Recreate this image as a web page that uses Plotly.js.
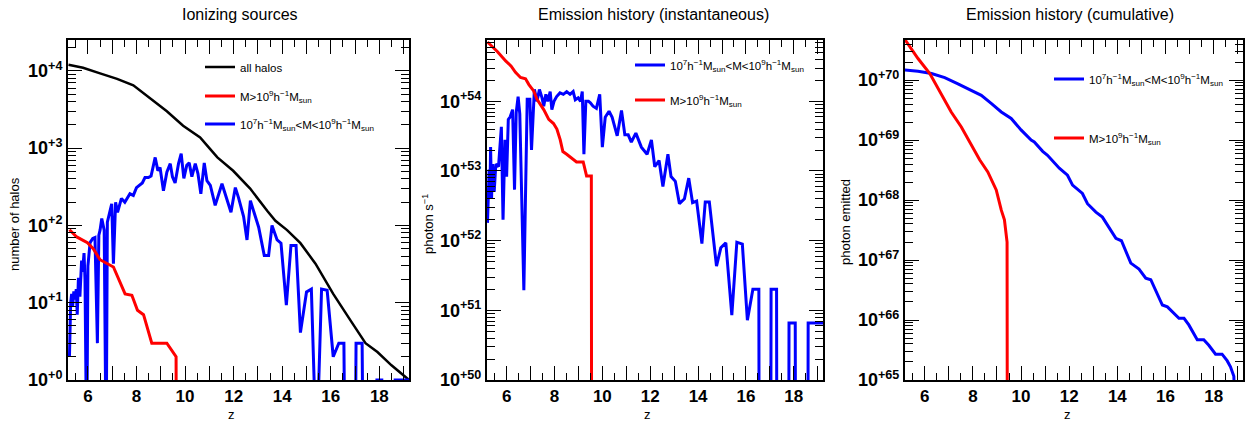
<!DOCTYPE html>
<html>
<head>
<meta charset="utf-8">
<script src="https://cdn.plot.ly/plotly-3.0.1.min.js"></script>
<style>html,body{margin:0;padding:0;background:#fff}#chart{width:1246px;height:424px}</style>
</head>
<body>
<div id="chart"></div>
<script>
// ---------- Panel 1: Ionizing sources (number of halos) ----------
const z_all = [5.2,5.8,6.5,7.2,7.87,8.56,9.25,9.92,10.62,11.0,11.33,11.98,12.68,13.38,13.72,14.2,14.75,15.37,16.1,16.81,17.43,17.92,18.5,19.22];
const n_all = [12000,11000,9300,7900,6500,4400,3000,1950,1380,1000,760,510,300,155,115,87,59,32,13,5.9,3.0,2.3,1.55,1.0];

const z_big1 = [5.24,5.54,5.98,6.22,6.5,7.05,7.53,7.81,8.04,8.29,8.63,9.25,9.63,9.64];
const n_big1 = [88,71,60,50,36,29,13,12.5,8,7,3,3,2,0];

const z_small1 = [5.24,5.29,5.33,5.37,5.42,5.47,5.52,5.56,5.61,5.67,5.74,5.78,5.84,5.88,5.95,6.0,6.09,6.2,6.29,6.39,6.45,6.5,6.57,6.67,6.75,6.8,6.98,7.05,7.14,7.22,7.38,7.52,7.73,7.87,8.0,8.14,8.24,8.35,8.49,8.6,8.7,8.77,8.88,8.97,9.11,9.25,9.39,9.48,9.59,9.73,9.84,9.95,10.07,10.17,10.28,10.42,10.53,10.65,10.79,10.9,11.04,11.24,11.52,11.66,11.89,12.07,12.2,12.41,12.55,12.69,12.89,13.03,13.26,13.44,13.58,13.79,13.95,14.17,14.36,14.57,14.75,15.0,15.2,15.41,15.62,15.85,16.1,16.33,16.54,16.58,17.01,17.04,17.29,17.33,17.88,17.9,18.1,18.12,18.63,18.65,19.22];
const n_small1 = [2,10,13,9,14,11,15,7,21,12,35,25,44,20,0,30,60,68,70,3,75,87,123,87,0,110,190,32,200,148,224,200,257,245,309,331,355,417,417,437,631,759,513,562,282,490,631,427,355,631,851,407,603,646,427,631,468,257,646,380,331,182,347,257,148,309,229,130,65,209,126,95,41,41,100,65,59,9.3,55,55,4.1,13.8,15,0,15,14.5,2,3,3,0,0,3,3,0,0,1,1,0,0,1,1];

// ---------- Panel 2: Emission history (instantaneous), photon s^-1 ----------
const z_small2 = [5.2,5.27,5.3,5.33,5.37,5.41,5.48,5.55,5.66,5.72,5.78,5.85,5.93,6.0,6.07,6.15,6.25,6.33,6.4,6.48,6.55,6.72,6.86,6.97,7.04,7.16,7.27,7.37,7.48,7.55,7.64,7.72,7.82,7.89,7.98,8.09,8.23,8.37,8.51,8.65,8.78,8.87,8.99,9.09,9.16,9.23,9.31,9.42,9.5,9.61,9.75,9.89,10.0,10.12,10.28,10.41,10.52,10.62,10.8,10.94,11.08,11.21,11.4,11.63,11.87,12.05,12.19,12.37,12.53,12.74,12.87,13.05,13.22,13.43,13.61,13.77,13.94,14.16,14.3,14.47,14.77,14.95,15.16,15.41,15.62,15.85,16.06,16.29,16.54,16.55,17.04,17.05,17.28,17.29,17.79,17.8,18.06,18.07,18.59,18.6,19.22];
const p_small2 = [1.8e52,1.05e53,4.0e52,2.2e53,4.0e52,1.26e53,5.0e52,1.26e53,1.15e53,2.8e53,4.3e53,2.0e52,2.8e53,8.3e52,5.5e53,6.0e53,7.6e53,5.4e52,6.9e53,1.17e54,6.6e53,1.95e51,1.07e54,1.07e54,2.0e53,1.48e54,1.0e54,1.48e54,1.12e54,8.5e53,1.26e54,1.0e54,1.38e54,7.6e53,1.0e54,1.17e54,1.32e54,1.26e54,1.38e54,1.26e54,1.38e54,1.05e54,1.12e54,1.0e54,1.38e54,1.74e53,1.0e54,1.0e54,9.5e53,8.5e53,7.9e53,1.26e54,2.2e53,5.9e53,7.2e53,5.9e53,4.4e53,3.2e53,7.4e53,3.3e53,3.3e53,2.6e53,3.5e53,2.2e53,1.74e53,2.8e53,1.15e53,1.41e53,6.0e52,1.74e53,8.3e52,7.1e52,3.4e52,4.0e52,7.9e52,3.5e52,3.7e52,9.1e51,3.6e52,3.6e52,4.3e51,7.9e51,9.3e51,8.5e50,9.5e51,8.9e51,7.2e50,2.0e51,2.0e51,0,0,2.0e51,2.0e51,0,0,6.6e50,6.6e50,0,0,6.6e50,6.6e50];

const z_big2 = [5.2,5.61,5.96,6.19,6.37,6.58,6.79,6.93,7.13,7.27,7.55,7.76,7.96,8.1,8.24,8.35,8.51,8.71,8.92,9.2,9.34,9.54,9.55];
const p_big2 = [7.1e54,5.2e54,3.8e54,3.2e54,2.6e54,2.2e54,2.1e54,1.74e54,1.41e54,1.07e54,7.6e53,5.5e53,4.8e53,4.0e53,2.8e53,1.9e53,1.74e53,1.55e53,1.35e53,1.35e53,8.5e52,8.5e52,0];

// ---------- Panel 3: Emission history (cumulative), photon emitted ----------
const z_small3 = [5.17,5.72,6.28,6.83,7.38,7.93,8.35,8.76,9.18,9.59,10.0,10.42,10.55,10.9,11.1,11.59,11.93,12.14,12.55,12.76,13.11,13.38,13.66,13.94,14.17,14.35,14.56,14.9,15.18,15.39,15.59,15.87,16.08,16.28,16.56,16.77,16.97,17.32,17.59,17.8,18.08,18.35,18.56,18.7,18.84,18.92];
const c_small3 = [1.48e70,1.41e70,1.29e70,1.10e70,8.7e69,6.8e69,5.6e69,4.1e69,2.95e69,2.3e69,1.48e69,1.0e69,9.3e68,6.5e68,5.6e68,3.4e68,2.6e68,1.78e68,1.29e68,8.7e67,6.3e67,5.2e67,3.4e67,2.3e67,2.1e67,1.38e67,8.9e66,7.1e66,5.0e66,4.7e66,3.2e66,1.78e66,1.66e66,1.38e66,1.07e66,1.07e66,8.3e65,4.7e65,4.7e65,3.8e65,2.7e65,2.7e65,2.1e65,1.66e65,1.15e65,0];

const z_big3 = [5.17,5.72,6.21,6.69,7.1,7.52,7.93,8.28,8.62,8.97,9.18,9.31,9.42,9.43];
const c_big3 = [4.8e70,2.3e70,1.29e70,6.0e69,2.95e69,1.66e69,8.3e68,4.7e68,2.95e68,1.48e68,6.8e67,4.7e67,2.0e67,0];

// ---------- labels ----------
const titles = ["Ionizing sources","Emission history (instantaneous)","Emission history (cumulative)"];
const yTitles = ["number of halos","photon s<sup>−1</sup>","photon emitted"];
const nameAll = "all halos";
const nameBig = "M>10<sup>9</sup>h<sup>−1</sup>M<sub>sun</sub>";
const nameSmall = "10<sup>7</sup>h<sup>−1</sup>M<sub>sun</sub>&lt;M&lt;10<sup>9</sup>h<sup>−1</sup>M<sub>sun</sub>";
const xTickVals = [5,6,7,8,9,10,11,12,13,14,15,16,17,18,19];
const xTickText = ["","6","","8","","10","","12","","14","","16","","18",""];
const decades1 = [0,1,2,3,4];
const decades2 = [50,51,52,53,54];
const decades3 = [65,66,67,68,69,70];

// ---------- drawing ----------
const FONT = "Liberation Sans, Arial, Helvetica, sans-serif";
const W = 1246, H = 424;
const px = v => v / W, py = v => 1 - v / H;
const floorPos = (arr, f) => arr.map(v => (v > 0 ? v : f));

function logAxis(decs, range) {
  const major = decs.map(d => Math.pow(10, d));
  const minor = [];
  for (let d = decs[0]; d <= decs[decs.length - 1]; d++)
    for (let m = 2; m <= 9; m++) minor.push(m * Math.pow(10, d));
  return {
    type: 'log', range: range, tickmode: 'array', tickvals: major,
    ticktext: decs.map(d => '10<sup>+' + d + '</sup>'),
    ticks: 'inside', ticklen: 14, tickwidth: 1, tickcolor: '#000',
    minor: {tickmode: 'array', tickvals: minor, ticks: 'inside', ticklen: 8, tickwidth: 1, tickcolor: '#000', showgrid: false},
    showline: true, linecolor: '#000', linewidth: 2, mirror: 'allticks',
    showgrid: false, zeroline: false,
    tickfont: {family: FONT, size: 18, color: '#000', weight: 'bold'}
  };
}
function linAxis(dom) {
  return {
    domain: dom, range: [5.18, 19.22], tickmode: 'array', tickvals: xTickVals, ticktext: xTickText,
    ticks: 'inside', ticklen: 14, tickwidth: 1, tickcolor: '#000',
    minor: {dtick: 0.5, tick0: 0, ticks: 'inside', ticklen: 7, tickwidth: 1, tickcolor: '#000', showgrid: false},
    showline: true, linecolor: '#000', linewidth: 2, mirror: 'allticks',
    showgrid: false, zeroline: false,
    tickfont: {family: FONT, size: 17, color: '#000', weight: 'bold'}
  };
}

const BLUE = '#0000ff', RED = '#ff0000';
const traces = [
  {x: z_all, y: n_all, xaxis: 'x', yaxis: 'y', mode: 'lines', line: {color: '#000', width: 2.5}, name: nameAll, legend: 'legend'},
  {x: z_small1, y: floorPos(n_small1, 0.1), xaxis: 'x', yaxis: 'y', mode: 'lines', line: {color: BLUE, width: 3}, name: nameSmall, legend: 'legend3'},
  {x: z_big1, y: floorPos(n_big1, 0.1), xaxis: 'x', yaxis: 'y', mode: 'lines', line: {color: RED, width: 3}, name: nameBig, legend: 'legend2'},
  {x: z_small2, y: floorPos(p_small2, 1e49), xaxis: 'x2', yaxis: 'y2', mode: 'lines', line: {color: BLUE, width: 3}, name: nameSmall, legend: 'legend4'},
  {x: z_big2, y: floorPos(p_big2, 1e49), xaxis: 'x2', yaxis: 'y2', mode: 'lines', line: {color: RED, width: 3}, name: nameBig, legend: 'legend5'},
  {x: z_small3, y: floorPos(c_small3, 1e64), xaxis: 'x3', yaxis: 'y3', mode: 'lines', line: {color: BLUE, width: 3}, name: nameSmall, legend: 'legend6'},
  {x: z_big3, y: floorPos(c_big3, 1e64), xaxis: 'x3', yaxis: 'y3', mode: 'lines', line: {color: RED, width: 3}, name: nameBig, legend: 'legend7'}
];

const yDom = [py(380), py(40)];
const leg = (xp, yp) => ({x: px(xp), y: py(yp), xanchor: 'left', yanchor: 'middle', bgcolor: 'rgba(0,0,0,0)', borderwidth: 0, itemwidth: 30, font: {family: FONT, size: 11.5, color: '#000'}});

const layout = {
  width: W, height: H, margin: {l: 0, r: 0, t: 0, b: 0},
  paper_bgcolor: '#fff', plot_bgcolor: '#fff', showlegend: true,
  xaxis: Object.assign(linAxis([px(68), px(409)]), {anchor: 'y'}),
  xaxis2: Object.assign(linAxis([px(487), px(823)]), {anchor: 'y2'}),
  xaxis3: Object.assign(linAxis([px(905), px(1243)]), {anchor: 'y3'}),
  yaxis: Object.assign(logAxis(decades1, [0, 4.4]), {domain: yDom, anchor: 'x'}),
  yaxis2: Object.assign(logAxis(decades2, [50, 54.88]), {domain: yDom, anchor: 'x2'}),
  yaxis3: Object.assign(logAxis(decades3, [65, 70.67]), {domain: yDom, anchor: 'x3'}),
  legend: leg(200, 67), legend2: leg(200, 96), legend3: leg(200, 124),
  legend4: leg(630, 65), legend5: leg(630, 100),
  legend6: leg(1049, 79), legend7: leg(1049, 138),
  annotations: [
    {text: titles[0], x: px(240), y: py(14)},
    {text: titles[1], x: px(653), y: py(14)},
    {text: titles[2], x: px(1070), y: py(14)}
  ].map(a => Object.assign(a, {xref: 'paper', yref: 'paper', showarrow: false, xanchor: 'center', yanchor: 'middle', font: {family: FONT, size: 16, color: '#000'}}))
  .concat([
    {text: yTitles[0], x: px(14), y: py(224)},
    {text: yTitles[1], x: px(428), y: py(224)},
    {text: yTitles[2], x: px(845), y: py(222)}
  ].map(a => Object.assign(a, {xref: 'paper', yref: 'paper', showarrow: false, textangle: -90, xanchor: 'center', yanchor: 'middle', font: {family: FONT, size: 13, color: '#000'}})))
  .concat([
    {text: 'z', x: px(231), y: py(414)},
    {text: 'z', x: px(647), y: py(414)},
    {text: 'z', x: px(1067), y: py(414)}
  ].map(a => Object.assign(a, {xref: 'paper', yref: 'paper', showarrow: false, xanchor: 'center', yanchor: 'middle', font: {family: FONT, size: 13, color: '#000'}})))
};

Plotly.newPlot('chart', traces, layout, {staticPlot: true, displayModeBar: false});
</script>
</body>
</html>
